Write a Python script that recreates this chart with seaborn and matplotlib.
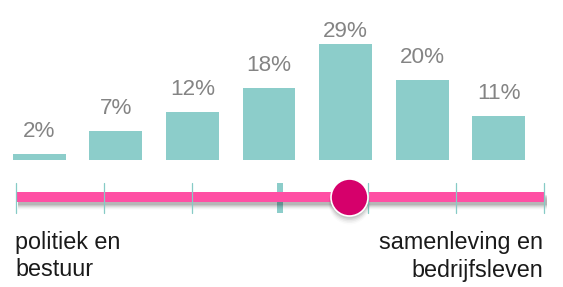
import matplotlib
matplotlib.use("Agg")
import matplotlib.pyplot as plt
import seaborn as sns
import pandas as pd
import numpy as np

# ---- data ----
categories = ["1", "2", "3", "4", "5", "6", "7"]
values = [1.4, 7.2, 12, 18, 29, 20, 11]
value_labels = ["2%", "7%", "12%", "18%", "29%", "20%", "11%"]
scale_ticks = [0, 1, 2, 3, 4, 5, 6]
mid_tick = 3
mean_position = 3.78
left_label = "politiek en\nbestuur"
right_label = "samenleving en\nbedrijfsleven"

BAR = "#8CCDCA"
PINK = "#FF4FA4"
MAGENTA = "#D6006B"
TICK = "#86CBC6"

sns.set_theme(style="white")
plt.rcParams["font.family"] = ["Liberation Sans", "DejaVu Sans"]

W, H = 563, 287
fig = plt.figure(figsize=(W / 100, H / 100), dpi=100)

# ---- bar axes ----
ax = fig.add_axes([1.0 / W, 1 - 160 / H, (537 - 1.0) / W, 160 / H])
df = pd.DataFrame({"cat": categories, "val": values})
sns.barplot(data=df, x="cat", y="val", color=BAR, saturation=1, width=0.69,
            ax=ax, edgecolor="none")
ax.set_xlim(-0.5, 6.5)
ax.set_ylim(0, 40)
ax.axis("off")
for i, (v, lab) in enumerate(zip(values, value_labels)):
    y = min(v + 4.3, 30.8)
    ax.text(i, y, lab, ha="center", va="baseline", fontsize=16.2, color="#848484")

# ---- slider axes ----
sx = fig.add_axes([0, 1 - 225 / H, 1, 55 / H])
px_per = 88
sx.set_xlim(-16 / px_per, 6 + 19 / px_per)
sx.set_ylim(-27.5, 27.5)  # pixel-like units, centre at 197.5px
sx.axis("off")

# thick mid tick (behind line)
sx.plot([mid_tick, mid_tick], [-15, 15], color=BAR, lw=4.3, solid_capstyle="butt", zorder=1)
# shadow of the line
for k, a in zip(range(1, 7), [0.09, 0.08, 0.06, 0.045, 0.03, 0.015]):
    sx.plot([scale_ticks[0] + 0.02, scale_ticks[-1] + 0.03], [-1.5 - k, -1.5 - k],
            color="black", alpha=a, lw=7.2, solid_capstyle="butt", zorder=2)
# pink line
sx.plot([scale_ticks[0] + 0.01, scale_ticks[-1] + 0.01], [0.5, 0.5], color=PINK,
        lw=7.2, solid_capstyle="butt", zorder=3)
# thin ticks
for t in scale_ticks:
    if t == mid_tick:
        continue
    sx.plot([t, t], [-15, 15], color=TICK, lw=0.9, zorder=4)

# circle shadow + marker
for k, a in zip(range(1, 6), [0.08, 0.06, 0.045, 0.03, 0.015]):
    sx.scatter([mean_position], [-1 - k * 0.8], s=(37 + k) ** 2 * 0.52, color="black",
               alpha=a, linewidths=0, zorder=5)
sx.scatter([mean_position], [1], s=(37 * 0.72) ** 2, color=MAGENTA,
           edgecolors="white", linewidths=1.2, zorder=6)

# ---- end labels ----
fig.text(15 / W, 1 - 276.5 / H, left_label, ha="left", va="baseline", fontsize=16.8,
         color="#1a1a1a", linespacing=1.25)
fig.text(543 / W, 1 - 276.5 / H, right_label, ha="right", va="baseline", fontsize=16.8,
         color="#1a1a1a", linespacing=1.25, multialignment="right")

fig.savefig("out.png", dpi=100)
